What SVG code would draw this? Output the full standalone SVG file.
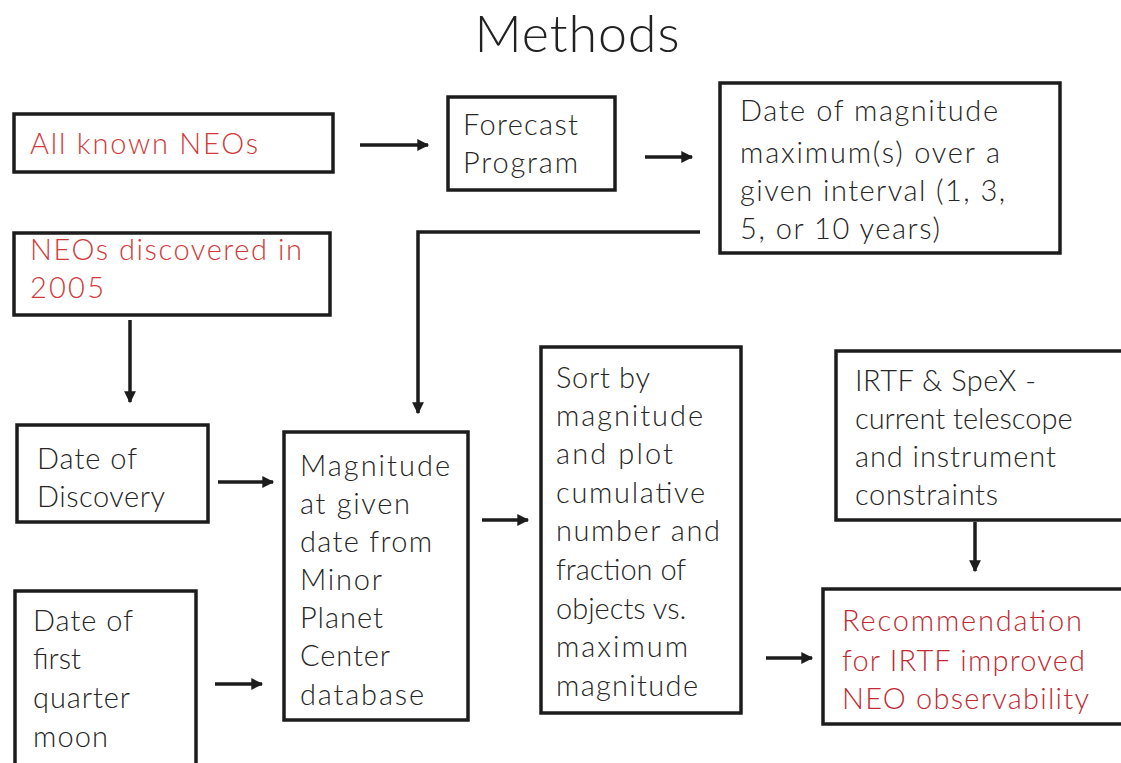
<svg xmlns="http://www.w3.org/2000/svg" width="1121" height="763" viewBox="0 0 1121 763">
<style>
.box{fill:#fff;stroke:#1c1c1c;stroke-width:3.5}
.t{font-family:Lato,"Open Sans","Liberation Sans",sans-serif;font-weight:300;font-size:29px;fill:#262626}
.r{fill:#d03a3a}
.rr{fill:#bf2b34}
.title{font-family:Lato,"Open Sans","Liberation Sans",sans-serif;font-weight:300;font-size:52px;fill:#222}
.c{stroke:#1c1c1c;stroke-width:3.5;fill:none}
</style>
<defs>
<marker id="ah" viewBox="0 0 10 10" refX="9" refY="5" markerWidth="3.6" markerHeight="3.4" orient="auto" markerUnits="strokeWidth">
<path d="M0,0 L10,5 L0,10 z" fill="#1c1c1c"/>
</marker>
</defs>
<rect width="1121" height="763" fill="#fff"/>
<text class="title" x="577" y="52" text-anchor="middle" textLength="205" lengthAdjust="spacing">Methods</text>

<g id="all-neos">
<rect class="box" x="14" y="114" width="319" height="58"/>
<text class="t r" x="30" y="154" textLength="228" lengthAdjust="spacing">All known NEOs</text>
</g>
<g id="forecast">
<rect class="box" x="448" y="97" width="167" height="93"/>
<text class="t" x="463" y="135" textLength="115" lengthAdjust="spacing">Forecast</text>
<text class="t" x="463" y="173" textLength="115" lengthAdjust="spacing">Program</text>
</g>
<g id="date-max">
<rect class="box" x="720" y="83" width="340" height="170"/>
<text class="t" x="740" y="121" textLength="258" lengthAdjust="spacing">Date of magnitude</text>
<text class="t" x="740" y="163" textLength="260" lengthAdjust="spacing">maximum(s) over a</text>
<text class="t" x="740" y="201" textLength="265" lengthAdjust="spacing">given interval (1, 3,</text>
<text class="t" x="740" y="239" textLength="200" lengthAdjust="spacing">5, or 10 years)</text>
</g>
<g id="neos-2005">
<rect class="box" x="14" y="233" width="316" height="82"/>
<text class="t r" x="30" y="260" textLength="272" lengthAdjust="spacing">NEOs discovered in</text>
<text class="t r" x="30" y="298" textLength="74" lengthAdjust="spacing">2005</text>
</g>
<g id="date-discovery">
<rect class="box" x="17" y="425" width="191" height="97"/>
<text class="t" x="37" y="469" textLength="100" lengthAdjust="spacing">Date of</text>
<text class="t" x="37" y="507" textLength="128" lengthAdjust="spacing">Discovery</text>
</g>
<g id="date-moon">
<rect class="box" x="15" y="591" width="181" height="190"/>
<text class="t" x="33" y="631" textLength="100" lengthAdjust="spacing">Date of</text>
<text class="t" x="33" y="669">first</text>
<text class="t" x="33" y="708" textLength="97" lengthAdjust="spacing">quarter</text>
<text class="t" x="33" y="747" textLength="75" lengthAdjust="spacing">moon</text>
</g>
<g id="magnitude-mpc">
<rect class="box" x="284" y="432" width="184" height="288"/>
<text class="t" x="300" y="476" textLength="150" lengthAdjust="spacing">Magnitude</text>
<text class="t" x="300" y="514" textLength="110" lengthAdjust="spacing">at given</text>
<text class="t" x="300" y="552" textLength="132" lengthAdjust="spacing">date from</text>
<text class="t" x="300" y="590" textLength="82" lengthAdjust="spacing">Minor</text>
<text class="t" x="300" y="628" textLength="83" lengthAdjust="spacing">Planet</text>
<text class="t" x="300" y="666" textLength="90" lengthAdjust="spacing">Center</text>
<text class="t" x="300" y="705" textLength="124" lengthAdjust="spacing">database</text>
</g>
<g id="sort-plot">
<rect class="box" x="541" y="347" width="200" height="366"/>
<text class="t" x="556" y="388" textLength="94" lengthAdjust="spacing">Sort by</text>
<text class="t" x="556" y="426" textLength="147" lengthAdjust="spacing">magnitude</text>
<text class="t" x="556" y="464" textLength="117" lengthAdjust="spacing">and plot</text>
<text class="t" x="556" y="503" textLength="149" lengthAdjust="spacing">cumulative</text>
<text class="t" x="556" y="541" textLength="164" lengthAdjust="spacing">number and</text>
<text class="t" x="556" y="580">fraction of</text>
<text class="t" x="556" y="619">objects vs.</text>
<text class="t" x="556" y="657" textLength="132" lengthAdjust="spacing">maximum</text>
<text class="t" x="556" y="696" textLength="142" lengthAdjust="spacing">magnitude</text>
</g>
<g id="irtf-spex">
<rect class="box" x="836" y="351" width="300" height="169"/>
<text class="t" x="855" y="391" textLength="181" lengthAdjust="spacing">IRTF &amp; SpeX -</text>
<text class="t" x="855" y="429">current telescope</text>
<text class="t" x="855" y="467" textLength="201" lengthAdjust="spacing">and instrument</text>
<text class="t" x="855" y="505" textLength="143" lengthAdjust="spacing">constraints</text>
</g>
<g id="recommendation">
<rect class="box" x="823" y="589" width="310" height="135"/>
<text class="t rr" x="842" y="631" textLength="240" lengthAdjust="spacing">Recommendation</text>
<text class="t rr" x="842" y="671" textLength="243" lengthAdjust="spacing">for IRTF improved</text>
<text class="t rr" x="842" y="709" textLength="247" lengthAdjust="spacing">NEO observability</text>
</g>

<g id="connectors">
<path class="c" d="M360,145 H428" marker-end="url(#ah)"/>
<path class="c" d="M645,157 H692" marker-end="url(#ah)"/>
<path class="c" d="M700,232 H418 V413" marker-end="url(#ah)"/>
<path class="c" d="M130,320 V402" marker-end="url(#ah)"/>
<path class="c" d="M218,482 H273" marker-end="url(#ah)"/>
<path class="c" d="M215,684 H262" marker-end="url(#ah)"/>
<path class="c" d="M482,520 H528" marker-end="url(#ah)"/>
<path class="c" d="M766,658 H812" marker-end="url(#ah)"/>
<path class="c" d="M975,522 V571" marker-end="url(#ah)"/>
</g>
</svg>
